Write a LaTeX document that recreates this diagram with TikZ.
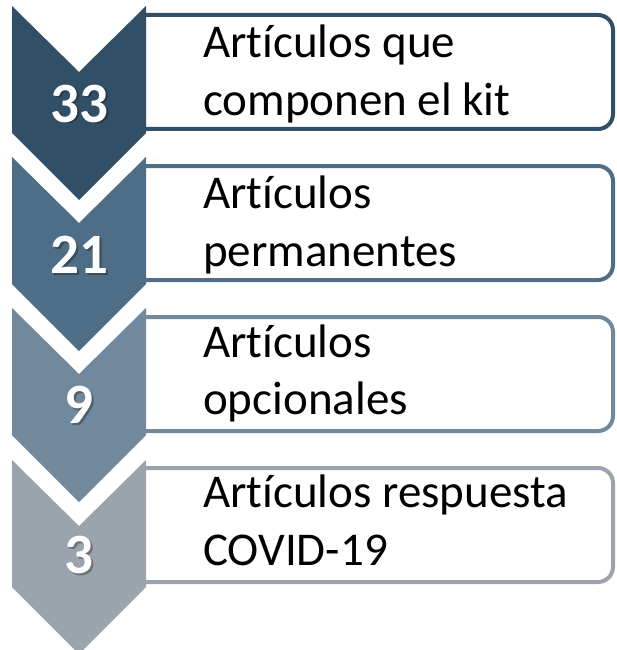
\documentclass[tikz,border=0pt]{standalone}
\usepackage{fontspec}
\setmainfont{Carlito}[Ligatures={NoCommon}]
\definecolor{cA}{RGB}{49,80,103}
\definecolor{cB}{RGB}{78,110,135}
\definecolor{cC}{RGB}{112,137,157}
\definecolor{cD}{RGB}{155,163,172}
\tikzset{
  chev/.style={fill=#1, draw=none},
  boxline/.style={draw=#1, line width=4pt, fill=white, rounded corners=15pt},
  lbl/.style={anchor=base west, inner sep=0pt, font=\fontsize{47}{58}\selectfont, text=black},
  num/.style={anchor=base, inner sep=0pt, font=\bfseries\fontsize{57}{60}\selectfont, text=white},
  numshadow/.style={anchor=base, inner sep=0pt, font=\bfseries\fontsize{57}{60}\selectfont, text=black, opacity=0.3}
}
\begin{document}
\begin{tikzpicture}[x=1pt,y=-1pt]
\useasboundingbox (0,0) rectangle (616,650);
\clip (0,0) rectangle (616,650);
% boxes
\foreach \c/\d in {cA/0, cB/151, cC/302, cD/453}{
  \path[boxline=\c] (146,15+\d) -- (613,15+\d) -- (613,129+\d) -- (146,129+\d);
}
% chevrons
\foreach \c/\d in {cA/0, cB/151, cC/302, cD/454}{
  \fill[chev=\c] (12,6+\d) -- (79,72+\d) -- (146,6+\d) -- (146,133+\d) -- (79,200+\d) -- (12,133+\d) -- cycle;
}
% numbers
\node[numshadow] (n1s) at (81,124) {33};
\node[num] (n1) at (79,122) {33};
\node[numshadow] (n2s) at (81,275) {21};
\node[num] (n2) at (79,273) {21};
\node[numshadow] (n3s) at (81,425) {9};
\node[num] (n3) at (79,423) {9};
\node[numshadow] (n4s) at (81,575) {3};
\node[num] (n4) at (79,573) {3};
% texts
\node[lbl] (t1a) at (203,58) {Artículos que};
\node[lbl] (t1b) at (203,116) {componen el kit};
\node[lbl] (t2a) at (203,208) {Artículos};
\node[lbl] (t2b) at (203,266) {permanentes};
\node[lbl] (t3a) at (203,357) {Artículos};
\node[lbl] (t3b) at (203,414) {opcionales};
\node[lbl] (t4a) at (203,507) {Artículos respuesta};
\node[lbl] (t4b) at (203,565) {COVID-19};
\end{tikzpicture}
\end{document}
